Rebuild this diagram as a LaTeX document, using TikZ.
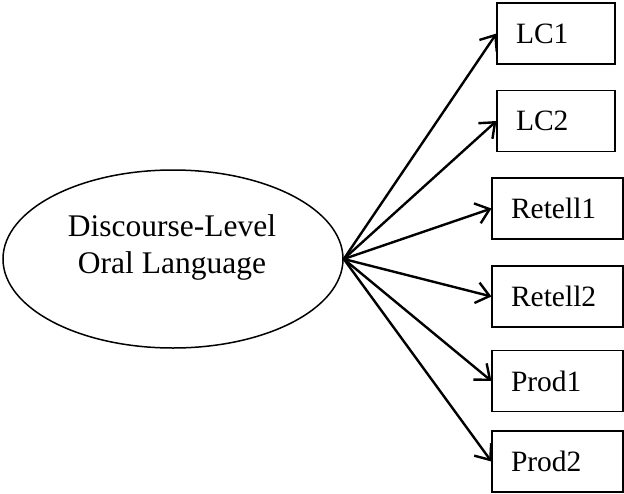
\documentclass[tikz,border=0pt]{standalone}
\usepackage{fontspec}
\setmainfont{Liberation Serif}
\usetikzlibrary{arrows.meta,shapes.geometric}
\tikzset{
  sem_lat/.style = {ellipse, draw=black, line width=1.5pt,
    minimum width=340pt, minimum height=178pt, inner sep=0pt},% latent factor
  sem_obs/.style = {rectangle, draw=black, line width=1.1pt,
    minimum height=61pt, inner xsep=19pt, align=left,
    font=\fontsize{29.5}{34}\selectfont},% observed indicator
  sem_lc/.style = {sem_obs, text width=80pt},
  sem_tp/.style = {sem_obs, text width=93pt},
}

\begin{document}
\begin{tikzpicture}[x=1pt,y=-1pt,->,>={Straight Barb[length=13pt,width=21pt]},
  line width=2.4pt]
\useasboundingbox (0,0) rectangle (624,493);
\node [sem_lat] (dol) at (173,259) {};
\node [align=center, font=\fontsize{31.5}{37}\selectfont] (dollabel) at (172,247)
  {Discourse-Level\\Oral Language};
\node [sem_lc] (lc1) at (556,33.5) {LC1};
\node [sem_lc] (lc2) at (556,121) {LC2};
\node [sem_tp] (retell1) at (557.5,208.5) {Retell1};
\node [sem_tp] (retell2) at (557.5,296.5) {Retell2};
\node [sem_tp] (prod1) at (557.5,381) {Prod1};
\node [sem_tp] (prod2) at (557.5,461.5) {Prod2};
\foreach \ind in {lc1,lc2,retell1,retell2,prod1,prod2}
  \draw (dol.east) -- (\ind.west);
\end{tikzpicture}
\end{document}
